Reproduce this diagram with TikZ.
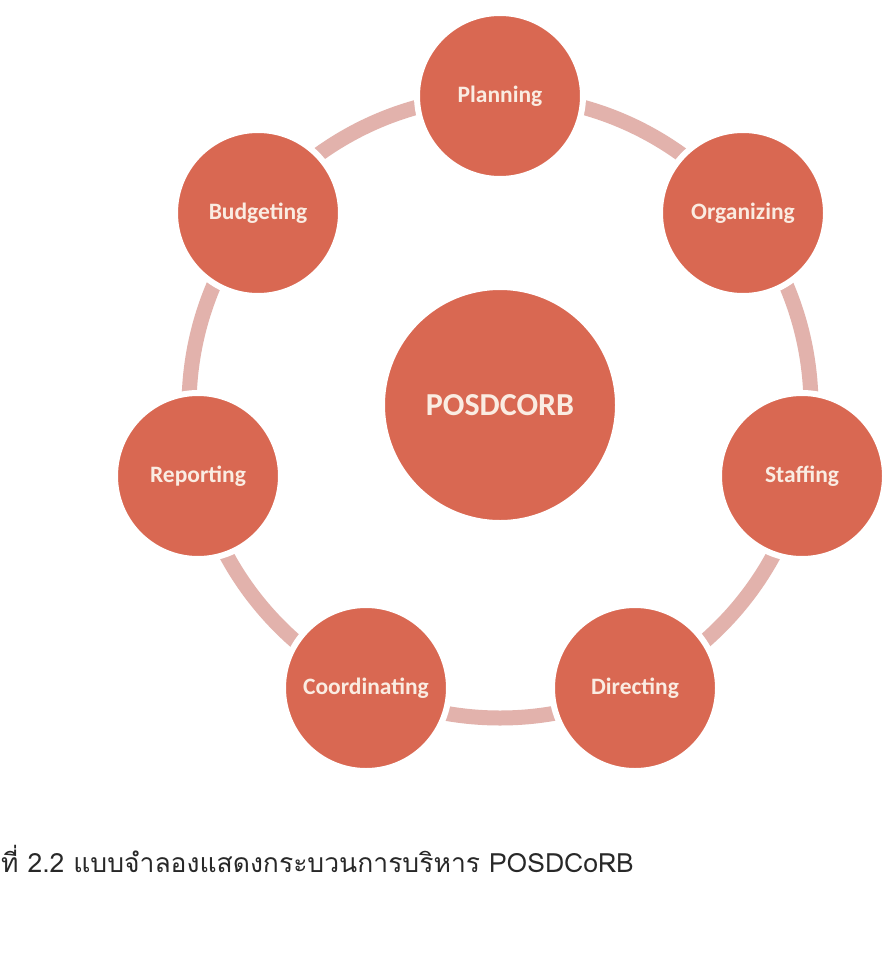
\documentclass[tikz,border=0pt]{standalone}
\usepackage{fontspec}
\setmainfont{Carlito}
\newfontfamily\thaifont[Script=Thai]{Loma}
\definecolor{circfill}{RGB}{217,104,82}
\definecolor{bandcol}{RGB}{226,178,172}
\definecolor{txtcol}{RGB}{250,236,226}
\definecolor{captcol}{RGB}{40,40,40}
\tikzset{
  stage/.style={circle, fill=circfill, draw=white, line width=6pt, minimum size=166pt, inner sep=0pt,
    text=txtcol, font=\fontsize{23.5}{26}\selectfont\bfseries},
  hub/.style={circle, fill=circfill, draw=white, line width=6pt, minimum size=236pt, inner sep=0pt,
    text=txtcol, font=\fontsize{32}{35}\selectfont\bfseries},
  band/.style={draw=bandcol, line width=15pt},
  caption/.style={anchor=base west, inner sep=0pt, text=captcol, font=\thaifont\fontsize{26.5}{30}\selectfont}
}
\begin{document}
\begin{tikzpicture}[x=1pt,y=-1pt]
\useasboundingbox (0,0) rectangle (881,953);
\fill[white] (0,0) rectangle (881,953);
\coordinate (ringc) at (500,407);
\draw[band] (ringc) circle[radius=311pt];
\node[hub] (posd) at (500,405) {POSDCORB};
\node[stage] (plan) at (500,96) {Planning};
\node[stage] (org) at (743,213) {Organizing};
\node[stage] (staff) at (802,476) {Staffing};
\node[stage] (dir) at (635,688) {Directing};
\node[stage] (coord) at (366,688) {Coordinating};
\node[stage] (rep) at (198,476) {Reporting};
\node[stage] (bud) at (258,213) {Budgeting};
\node[caption] (cap) at (1,872) {ที่ 2.2 แบบจำลองแสดงกระบวนการบริหาร POSDCoRB};
\end{tikzpicture}
\end{document}
